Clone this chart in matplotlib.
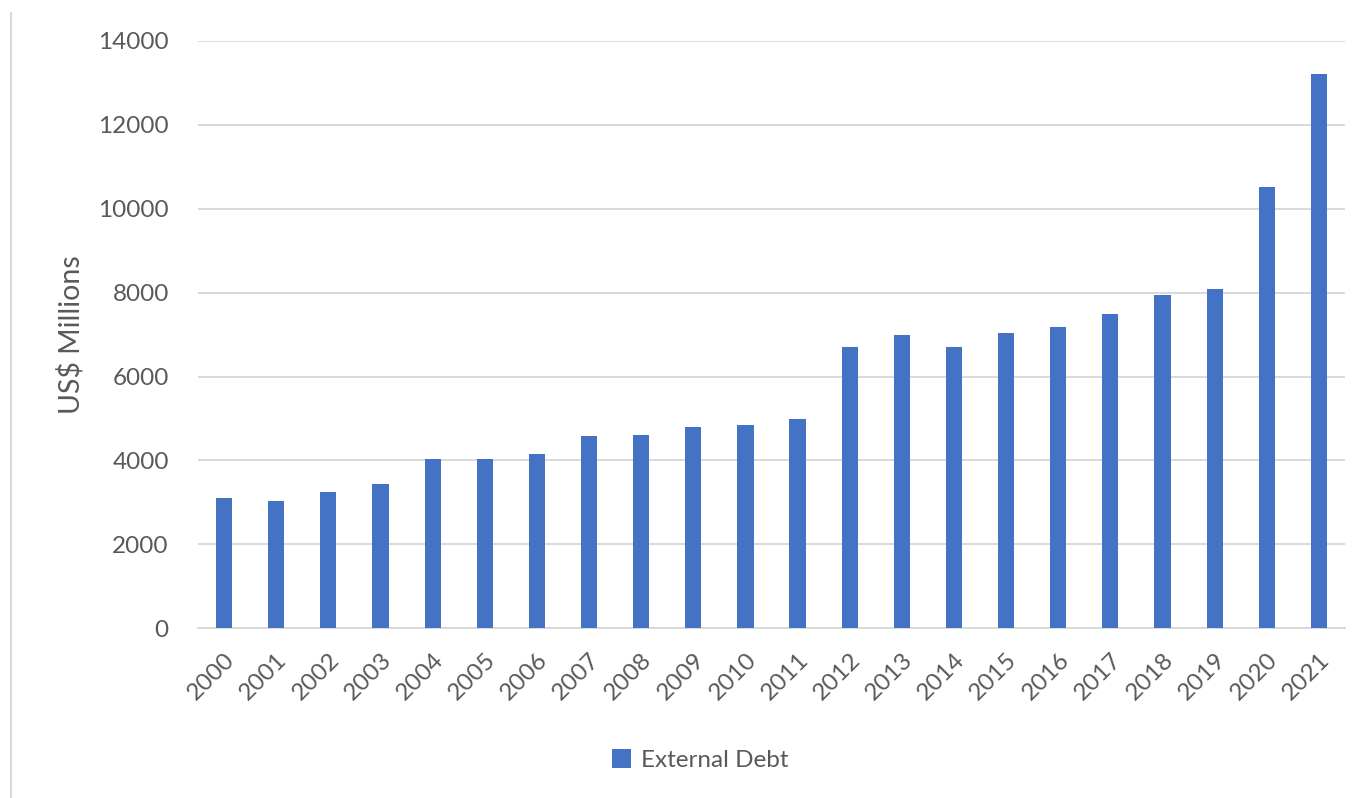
import matplotlib
matplotlib.use("Agg")
import matplotlib.pyplot as plt
from matplotlib.lines import Line2D
from matplotlib.patches import Patch

years = [str(y) for y in range(2000, 2022)]
external_debt = [3100, 3030, 3256, 3440, 4045, 4045, 4162, 4580, 4615, 4806,
                 4846, 4990, 6700, 6995, 6700, 7040, 7185, 7492, 7945, 8090,
                 10520, 13206]

plt.rcParams['font.family'] = ['Lato', 'DejaVu Sans']
txt = '#595959'
grid = '#D9D9D9'
bar_color = '#4472C4'

fig = plt.figure(figsize=(13.6, 7.98), dpi=100)
ax = fig.add_axes([198/1360, 1-628.3/798, (1345-198)/1360, (628.3-41)/798])

x = range(len(years))
ax.bar(x, external_debt, width=0.31, color=bar_color, zorder=3)
ax.set_xlim(-0.5, len(years)-0.5)
ax.set_ylim(0, 14000)
ax.set_yticks(range(0, 14001, 2000))
ax.yaxis.grid(True, color=grid, linewidth=1.4, zorder=0)
ax.set_axisbelow(True)
for s in ['top', 'right', 'left']:
    ax.spines[s].set_visible(False)
ax.spines['bottom'].set_color(grid)
ax.spines['bottom'].set_linewidth(1.4)
ax.tick_params(axis='both', length=0, colors=txt, labelsize=17.5)
ax.tick_params(axis='y', pad=21)
ax.set_xticks(list(x))
ax.set_xticklabels(years, rotation=45, ha='right', va='top', rotation_mode='anchor')
ax.tick_params(axis='x', pad=15)
ax.set_ylabel('US$ Millions', color=txt, fontsize=20.5, labelpad=10)

leg = fig.legend(handles=[Patch(facecolor=bar_color, label='External Debt')],
                 loc='center', bbox_to_anchor=(700/1360, 1-760/798), frameon=False,
                 fontsize=17.5, handlelength=0.8, handleheight=0.8, handletextpad=0.4)
for t in leg.get_texts():
    t.set_color(txt)

fig.add_artist(Line2D([10.5/1360, 10.5/1360], [0, 1-13/798], color=grid, linewidth=1.5))

fig.savefig('out.png', dpi=100)
